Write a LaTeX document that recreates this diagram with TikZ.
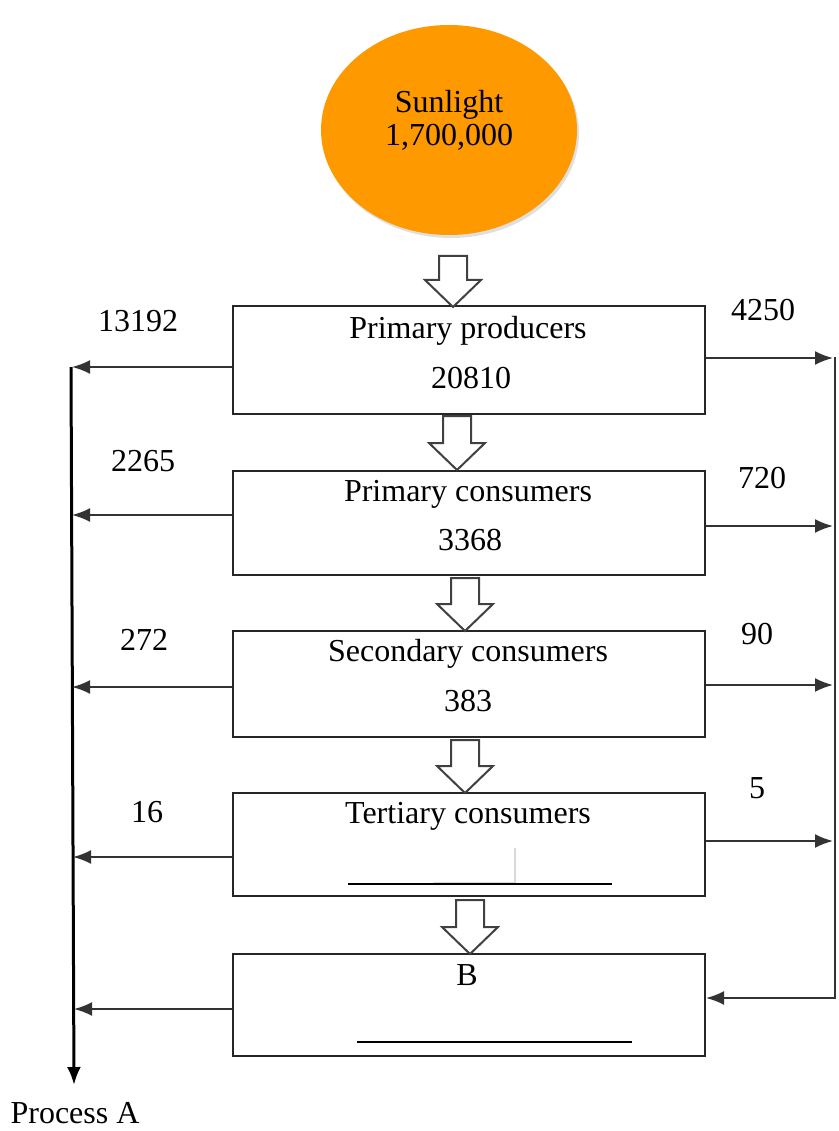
\documentclass[tikz,border=0pt]{standalone}
\usepackage{fontspec}
\setmainfont{Liberation Serif}
\usetikzlibrary{arrows.meta,positioning,shadows,shapes.geometric}
\tikzset{>={Latex[length=18pt,width=14pt]}}
\definecolor{sunorange}{RGB}{255,153,0}

\begin{document}
\begin{tikzpicture}[x=1pt, y=-1pt, font=\fontsize{32}{36}\selectfont,
    box/.style={draw=black!85, line width=2pt, minimum width=472pt, inner sep=0pt},
    txt/.style={inner sep=0pt, text height=22pt, text depth=7pt},
    flow/.style={draw=black!75, line width=2pt, fill=white, line join=miter},
    side/.style={->, line width=2pt, draw=black!80}]
    \useasboundingbox (0,0) rectangle (838,1131);

    \node[ellipse, fill=sunorange, minimum width=256pt, minimum height=210pt,
          drop shadow={shadow xshift=2pt, shadow yshift=-3pt, opacity=0.25}] (sun) at (449,130) {};
    \node[txt] (sun-name) at (449,105) {Sunlight};
    \node[txt] (sun-value) at (449,138) {1,700,000};

    \node[box, minimum height=108pt] (producers) at (469,360) {};
    \node[box, minimum height=104pt] (primary) at (469,523) {};
    \node[box, minimum height=106pt] (secondary) at (469,684) {};
    \node[box, minimum height=103pt] (tertiary) at (469,844.5) {};
    \node[box, minimum height=102pt] (level-b) at (469,1005) {};

    \node[txt] (producers-name) at (468,331) {Primary producers};
    \node[txt] (producers-value) at (471,381) {20810};
    \node[txt] (primary-name) at (468,494) {Primary consumers};
    \node[txt] (primary-value) at (470,543) {3368};
    \node[txt] (secondary-name) at (468,654) {Secondary consumers};
    \node[txt] (secondary-value) at (468,704) {383};
    \node[txt] (tertiary-name) at (468,816) {Tertiary consumers};
    \node[txt] (b-name) at (467,978) {B};

    \node[fill=white, minimum width=82pt, minimum height=37pt, inner sep=0pt,
          drop shadow={shadow xshift=2pt, shadow yshift=-3pt, opacity=0.3}] (blank) at (473,863.5) {};
    \coordinate (tertiary-line-start) at (348,884);
    \coordinate (tertiary-line-end) at (612,884);
    \coordinate (b-line-start) at (357,1042);
    \coordinate (b-line-end) at (632,1042);
    \draw[line width=2pt] (tertiary-line-start) -- (tertiary-line-end);
    \draw[line width=2pt] (b-line-start) -- (b-line-end);

    \foreach \cx/\ya/\yb in {453/256/307, 457/416/470, 465/578/631, 465/740/793, 470/900/954}
        \draw[flow] (\cx-14,\ya) -- (\cx+14,\ya) -- (\cx+14,\yb-27) -- (\cx+28,\yb-27)
            -- (\cx,\yb) -- (\cx-28,\yb-27) -- (\cx-14,\yb-27) -- cycle;

    \coordinate (loss-top) at (71,367);
    \coordinate (loss-end) at (74,1085);
    \coordinate (loss-1) at (72,367);
    \coordinate (loss-2) at (72,515);
    \coordinate (loss-3) at (72,687);
    \coordinate (loss-4) at (73,857);
    \coordinate (loss-5) at (74,1009);
    \draw[->, line width=3pt] (loss-top) -- (loss-end);
    \draw[side] (producers.west |- loss-1) -- (loss-1);
    \draw[side] (primary.west |- loss-2) -- (loss-2);
    \draw[side] (secondary.west |- loss-3) -- (loss-3);
    \draw[side] (tertiary.west |- loss-4) -- (loss-4);
    \draw[side] (level-b.west |- loss-5) -- (loss-5);

    \coordinate (gain-1) at (833,358);
    \coordinate (gain-2) at (833,526);
    \coordinate (gain-3) at (833,685);
    \coordinate (gain-4) at (833,841);
    \coordinate (gain-corner) at (835,998);
    \draw[side] (producers.east |- gain-1) -- (gain-1);
    \draw[side] (primary.east |- gain-2) -- (gain-2);
    \draw[side] (secondary.east |- gain-3) -- (gain-3);
    \draw[side] (tertiary.east |- gain-4) -- (gain-4);
    \draw[side] (835,357) -- (gain-corner) -- (level-b.east |- gain-corner);

    \node[txt] (loss-label-1) at (138,324) {13192};
    \node[txt] (loss-label-2) at (143,464) {2265};
    \node[txt] (loss-label-3) at (144,643) {272};
    \node[txt] (loss-label-4) at (147,815) {16};
    \node[txt] (gain-label-1) at (763,313) {4250};
    \node[txt] (gain-label-2) at (762,481) {720};
    \node[txt] (gain-label-3) at (757,637) {90};
    \node[txt] (gain-label-4) at (757,791) {5};
    \node[txt] (process-a) at (75,1116) {Process A};
\end{tikzpicture}
\end{document}
